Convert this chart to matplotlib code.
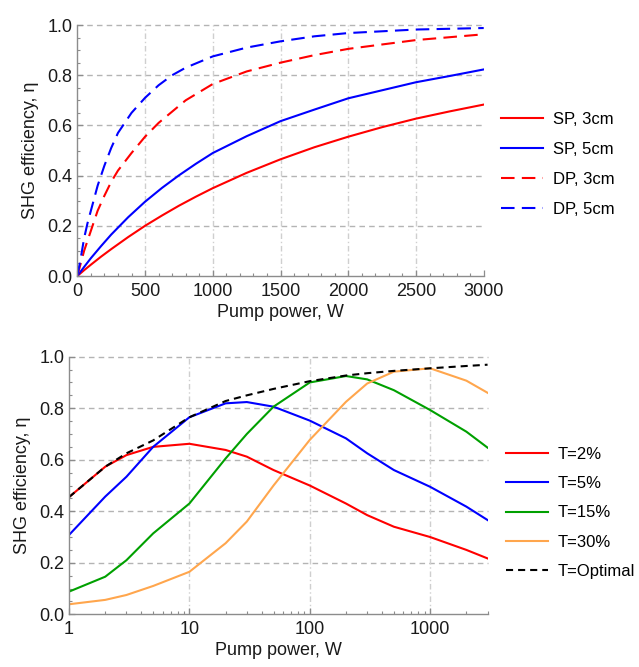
import matplotlib
matplotlib.use("Agg")
import matplotlib.pyplot as plt
from matplotlib.ticker import MultipleLocator, FixedLocator, NullFormatter

plt.rcParams['font.family'] = ['Liberation Sans', 'DejaVu Sans']

# ---------------- Top panel data ----------------
power_sp = [0, 50, 100, 175, 250, 375, 500, 625, 750, 875, 1000, 1250, 1500, 1750, 2000, 2250, 2500, 2750, 3000]
sp_3cm = [0, 0.023, 0.045, 0.077, 0.107, 0.155, 0.200, 0.241, 0.280, 0.316, 0.350, 0.411, 0.465, 0.513, 0.555, 0.593, 0.627, 0.656, 0.683]
sp_5cm = [0, 0.036, 0.071, 0.119, 0.165, 0.234, 0.296, 0.351, 0.401, 0.447, 0.490, 0.557, 0.617, 0.663, 0.708, 0.740, 0.772, 0.797, 0.823]

power_dp = [0, 25, 50, 75, 100, 150, 200, 250, 300, 400, 500, 600, 700, 800, 1000, 1250, 1500, 1750, 2000, 2500, 3000]
dp_3cm = [0, 0.05, 0.10, 0.14, 0.18, 0.26, 0.32, 0.375, 0.42, 0.49, 0.555, 0.61, 0.655, 0.70, 0.765, 0.815, 0.850, 0.880, 0.905, 0.940, 0.963]
dp_5cm = [0, 0.07, 0.15, 0.21, 0.26, 0.36, 0.44, 0.51, 0.57, 0.65, 0.71, 0.76, 0.80, 0.83, 0.875, 0.910, 0.935, 0.955, 0.968, 0.982, 0.988]

# ---------------- Bottom panel data ----------------
power_log = [1, 2, 3, 5, 10, 20, 30, 50, 100, 200, 300, 500, 1000, 2000, 3000]
t2 = [0.455, 0.573, 0.618, 0.650, 0.662, 0.638, 0.612, 0.560, 0.500, 0.430, 0.385, 0.340, 0.300, 0.250, 0.217]
t5 = [0.308, 0.457, 0.534, 0.650, 0.765, 0.819, 0.824, 0.806, 0.752, 0.683, 0.625, 0.560, 0.495, 0.418, 0.366]
t15 = [0.088, 0.146, 0.210, 0.314, 0.430, 0.605, 0.700, 0.806, 0.900, 0.925, 0.912, 0.870, 0.793, 0.709, 0.647]
t30 = [0.039, 0.056, 0.075, 0.110, 0.165, 0.276, 0.360, 0.500, 0.677, 0.825, 0.896, 0.942, 0.955, 0.907, 0.860]
t_opt = [0.455, 0.573, 0.625, 0.675, 0.765, 0.828, 0.850, 0.875, 0.905, 0.927, 0.936, 0.945, 0.955, 0.964, 0.969]

labels_top = ['SP, 3cm', 'SP, 5cm', 'DP, 3cm', 'DP, 5cm']
labels_bot = ['T=2%', 'T=5%', 'T=15%', 'T=30%', 'T=Optimal']

RED = '#ff0000'
BLUE = '#0000ff'
GREEN = '#00a000'
ORANGE = '#ffa64d'
AXCOL = '#8c8c8c'
HGRID = '#b4b4b4'
VGRID = '#cfcfcf'
LW = 1.5
FS = 13
LFS = 12

fig = plt.figure(figsize=(6.39, 6.67), dpi=100)
ax1 = fig.add_axes([0.121, 0.5862, 0.636, 0.3763])
ax2 = fig.add_axes([0.108, 0.0790, 0.655, 0.3862])


def style(ax):
    for s in ['top', 'right']:
        ax.spines[s].set_visible(False)
    for s in ['left', 'bottom']:
        ax.spines[s].set_color(AXCOL)
        ax.spines[s].set_linewidth(1.0)
    ax.tick_params(which='both', direction='in', color=AXCOL, labelcolor='#1a1a1a', labelsize=FS)
    ax.tick_params(which='major', length=4.5, width=0.9)
    ax.tick_params(which='minor', length=2.5, width=0.8)
    ax.tick_params(axis='x', which='major', pad=5)
    ax.tick_params(axis='y', which='major', pad=3.5)
    ax.set_ylim(0, 1.0)
    ax.yaxis.set_major_locator(MultipleLocator(0.2))
    ax.yaxis.set_minor_locator(MultipleLocator(0.05))
    ax.yaxis.set_major_formatter(matplotlib.ticker.FormatStrFormatter('%.1f'))
    ax.set_ylabel('SHG efficiency, η', fontsize=FS, color='#1a1a1a', labelpad=6)
    for yv in [0.2, 0.4, 0.6, 0.8, 1.0]:
        ax.axhline(yv, color=HGRID, lw=1.0, ls=(0, (4, 3)), zorder=0, clip_on=False)


# ---- top ----
style(ax1)
ax1.set_xlim(0, 3000)
ax1.xaxis.set_major_locator(MultipleLocator(500))
ax1.xaxis.set_minor_locator(MultipleLocator(100))
for xv in [500, 1000, 1500, 2000, 2500]:
    ax1.axvline(xv, color=VGRID, lw=1.0, ls=(0, (4, 2, 1, 2)), zorder=0)
l1, = ax1.plot(power_sp, sp_3cm, color=RED, lw=LW)
l2, = ax1.plot(power_sp, sp_5cm, color=BLUE, lw=LW)
l3, = ax1.plot(power_dp, dp_3cm, color=RED, lw=LW, ls=(0, (6.5, 3.5)))
l4, = ax1.plot(power_dp, dp_5cm, color=BLUE, lw=LW, ls=(0, (6.5, 3.5)))
ax1.set_xlabel('Pump power, W', fontsize=FS, color='#1a1a1a', labelpad=3)
fig.legend([l1, l2, l3, l4], labels_top, loc='center left', bbox_to_anchor=(0.784, 0.753),
           frameon=False, fontsize=LFS, handlelength=2.5, handletextpad=0.6, labelspacing=0.9,
           borderpad=0, borderaxespad=0)

# ---- bottom ----
style(ax2)
ax2.set_xscale('log')
ax2.set_xlim(1, 3000)
ax2.xaxis.set_major_locator(FixedLocator([1, 10, 100, 1000]))
ax2.xaxis.set_major_formatter(matplotlib.ticker.FixedFormatter(['1', '10', '100', '1000']))
ax2.xaxis.set_minor_locator(matplotlib.ticker.LogLocator(base=10, subs=range(2, 10), numticks=20))
ax2.xaxis.set_minor_formatter(NullFormatter())
for xv in [10, 100, 1000]:
    ax2.axvline(xv, color=VGRID, lw=1.0, ls=(0, (4, 2, 1, 2)), zorder=0)
m1, = ax2.plot(power_log, t2, color=RED, lw=LW)
m2, = ax2.plot(power_log, t5, color=BLUE, lw=LW)
m3, = ax2.plot(power_log, t15, color=GREEN, lw=LW)
m4, = ax2.plot(power_log, t30, color=ORANGE, lw=LW)
m5, = ax2.plot(power_log, t_opt, color='black', lw=LW, ls=(0, (3.4, 2.4)))
ax2.set_xlabel('Pump power, W', fontsize=FS, color='#1a1a1a', labelpad=3)
fig.legend([m1, m2, m3, m4, m5], labels_bot, loc='center left', bbox_to_anchor=(0.792, 0.231),
           frameon=False, fontsize=LFS, handlelength=2.5, handletextpad=0.6, labelspacing=0.85,
           borderpad=0, borderaxespad=0)

fig.savefig('out.png', dpi=100)
